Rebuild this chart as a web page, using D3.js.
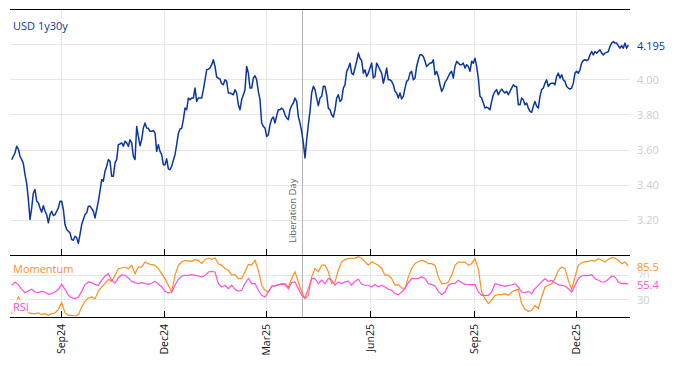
<!DOCTYPE html>
<html lang="en">
<head>
<meta charset="UTF-8">
<title>USD 1y30y</title>
<script src="https://cdn.jsdelivr.net/npm/d3@7"></script>
<style>
  body { margin: 0; background: #fff; }
  text { font-family: "Open Sans", sans-serif; }
</style>
</head>
<body>
<svg width="674" height="366"></svg>
<script>
// series run evenly from the first to the last date
const firstDay = "2024-07-19";
const lastDay = "2026-01-16";

const usd = [
  3.543, 3.562, 3.581, 3.619, 3.603, 3.562, 3.543, 3.520, 3.458, 3.406,
  3.316, 3.202, 3.268, 3.353, 3.372, 3.306, 3.297, 3.268, 3.244, 3.281,
  3.249, 3.230, 3.183, 3.230, 3.249, 3.225, 3.230, 3.249, 3.268, 3.306,
  3.306, 3.259, 3.173, 3.145, 3.135, 3.126, 3.088, 3.084, 3.107, 3.098,
  3.066, 3.117, 3.173, 3.202, 3.230, 3.240, 3.278, 3.278, 3.264, 3.249,
  3.211, 3.259, 3.306, 3.363, 3.429, 3.420, 3.477, 3.505, 3.543, 3.533,
  3.448, 3.448, 3.524, 3.543, 3.628, 3.632, 3.638, 3.619, 3.647, 3.638,
  3.619, 3.656, 3.638, 3.562, 3.543, 3.732, 3.675, 3.622, 3.656, 3.723,
  3.751, 3.723, 3.721, 3.704, 3.704, 3.709, 3.694, 3.590, 3.628, 3.590,
  3.571, 3.514, 3.514, 3.547, 3.490, 3.486,
  3.505, 3.539, 3.571, 3.628, 3.691, 3.717, 3.721, 3.770, 3.836, 3.827,
  3.893, 3.884, 3.893, 3.893, 3.950, 3.874, 3.893, 3.893, 3.893, 3.941,
  3.997, 4.054, 4.058, 4.064, 4.083, 4.111, 4.073, 4.013, 4.007, 4.001,
  3.975, 3.969, 3.997, 3.988, 3.922, 3.922, 3.918, 3.912, 3.941, 3.922,
  3.855, 3.827, 3.884, 3.912, 3.941, 4.073, 4.035, 3.950, 3.950, 4.007,
  4.020, 3.997, 3.931, 3.884, 3.751, 3.732, 3.723, 3.675, 3.685, 3.742,
  3.774, 3.785, 3.751, 3.793, 3.827, 3.827, 3.836, 3.827, 3.798, 3.780,
  3.770, 3.827, 3.850, 3.865, 3.893, 3.874, 3.789, 3.751, 3.704, 3.638,
  3.552, 3.656, 3.742, 3.817, 3.922, 3.960, 3.941, 3.893, 3.850, 3.893,
  3.903, 3.960, 3.960,
  3.912, 3.836, 3.827, 3.798, 3.785, 3.827, 3.893, 3.912, 3.874, 3.884,
  3.950, 3.969, 4.045, 4.064, 4.092, 4.035, 4.026, 4.064, 4.102, 4.149,
  4.120, 4.107, 4.035, 4.054, 4.016, 4.035, 4.064, 4.092, 4.007, 4.016,
  4.092, 4.073, 4.054, 4.035, 3.978, 4.016, 4.064, 3.997, 3.997, 3.988,
  3.969, 3.931, 3.922, 3.893, 3.922, 3.888, 3.903, 3.950, 3.988, 3.997,
  4.035, 4.045, 3.997, 4.007, 4.073, 4.111, 4.139, 4.139, 4.130, 4.102,
  4.073, 4.083, 4.092, 4.092, 4.111, 4.026, 4.045, 4.016, 3.969, 3.931,
  3.950, 3.982, 3.997, 4.016, 4.035, 4.045, 4.007, 4.073, 4.102, 4.092,
  4.083, 4.083, 4.092, 4.064, 4.083, 4.073, 4.045, 4.102, 4.092, 4.120,
  4.073, 4.007, 3.903,
  3.893, 3.865, 3.836, 3.842, 3.836, 3.827, 3.874, 3.912, 3.931, 3.941,
  3.912, 3.931, 3.944, 3.931, 3.922, 3.931, 3.912, 3.931, 3.950, 3.969,
  3.959, 3.959, 3.855, 3.855, 3.893, 3.884, 3.855, 3.865, 3.836, 3.817,
  3.812, 3.846, 3.874, 3.846, 3.836, 3.903, 3.941, 3.950, 3.978, 3.997,
  3.959, 3.973, 3.978, 3.978, 3.969, 4.016, 4.035, 4.007, 4.026, 3.997,
  3.988, 3.959, 3.950, 3.944, 3.950, 3.978, 4.035, 4.045, 4.035, 4.054,
  4.092, 4.107, 4.111, 4.107, 4.111, 4.139, 4.158, 4.139, 4.158, 4.149,
  4.158, 4.168, 4.149, 4.139, 4.149, 4.153, 4.158, 4.187, 4.206, 4.215,
  4.206, 4.206, 4.191, 4.177, 4.191, 4.177, 4.206, 4.177, 4.195
];

const momentum = [
  6.1, 20.0, 33.9, 25.6, 14.4, 7.8, 6.1, 6.1, 7.2, 4.4,
  6.1, 3.3, 6.1, 7.2, 13.3, 24.4, 7.2, 3.3, 3.3, 2.2,
  4.4, 17.2, 26.7, 32.2, 33.9, 31.1, 43.3, 50.6, 56.1, 63.4,
  60.0, 70.0, 81.2, 82.3, 83.9, 81.2, 86.7, 72.8, 83.9, 83.9,
  92.3, 89.5, 87.8, 86.7, 81.2, 72.8, 64.5, 53.4, 42.2, 70.0,
  86.7, 92.3, 95.1, 93.9, 93.9, 96.2, 95.1, 89.5, 96.7, 98.9,
  96.7, 98.9, 89.5,
  87.1, 81.5, 78.7, 70.3, 71.4, 64.7, 64.7, 75.9, 88.2, 87.1,
  95.5, 78.7, 53.5, 45.1, 42.3, 52.4, 53.5, 53.5, 56.3, 56.3,
  50.7, 64.7, 75.9, 59.1, 42.3, 31.1, 36.7, 67.5, 81.5, 75.9,
  87.1, 87.1, 75.9, 56.3, 59.1, 78.7, 92.7, 96.6, 97.8, 98.3,
  98.9, 101.1, 98.3, 92.7, 87.1, 92.7, 89.9, 87.1, 81.5, 70.3,
  70.3, 64.7, 53.5, 54.6, 49.0, 47.9, 67.5, 81.5, 89.9, 92.7,
  95.1, 93.4, 89.5, 89.5, 86.7, 67.3, 56.1, 56.1, 58.9, 70.0,
  86.7, 92.3, 91.7, 92.3, 86.7, 89.5, 97.8, 81.2, 42.2, 31.1,
  22.8, 28.3, 36.7, 37.8, 37.8, 39.5, 36.7, 42.2, 45.0, 46.7,
  22.8, 13.3, 10.0, 11.7, 20.0, 14.4, 33.9, 50.6, 53.4, 56.1,
  64.5, 78.4, 83.9, 81.2, 61.7, 46.7, 67.3, 86.7, 91.2, 92.8,
  93.4, 95.1, 93.9, 97.8, 95.1, 92.3, 96.7, 99.5, 98.9, 95.1,
  89.5, 92.3, 85.5
];

const rsi = [
  53.4, 58.9, 54.5, 46.7, 41.1, 43.9, 46.7, 42.2, 41.1, 43.3,
  42.2, 38.3, 39.5, 42.2, 46.7, 55.0, 46.7, 36.7, 32.8, 31.1,
  33.9, 43.3, 54.5, 58.9, 57.8, 54.5, 53.4, 61.7, 68.9, 72.8,
  61.7, 57.2, 65.6, 71.1, 70.0, 65.6, 60.0, 57.8, 56.1, 57.8,
  56.1, 55.0, 57.2, 60.0, 55.6, 50.6, 43.3, 40.6, 42.2, 53.4,
  63.4, 68.9, 70.0, 70.0, 71.1, 70.0, 68.9, 67.3, 70.0, 75.6,
  76.7, 75.6, 56.1,
  50.7, 53.5, 47.9, 53.5, 46.8, 43.4, 45.1, 56.3, 64.7, 56.3,
  56.3, 45.1, 36.7, 33.9, 42.3, 51.8, 51.8, 54.6, 55.2, 54.6,
  47.9, 58.0, 59.1, 47.9, 36.7, 32.2, 47.9, 64.7, 64.7, 56.3,
  61.9, 56.3, 64.7, 61.9, 53.5, 59.1, 56.3, 59.1, 60.2, 53.5,
  60.2, 63.6, 55.2, 53.5, 53.5, 50.7, 54.6, 50.7, 53.5, 50.7,
  46.8, 45.1, 39.5, 37.8, 42.3, 47.9, 58.0, 64.7, 64.7, 64.7,
  67.8, 64.5, 56.1, 54.5, 52.2, 43.3, 37.8, 42.2, 53.4, 56.1,
  56.7, 61.7, 57.8, 55.0, 54.5, 54.5, 54.5, 42.2, 36.7, 36.7,
  36.7, 42.2, 56.1, 54.5, 53.4, 51.7, 53.4, 53.9, 56.1, 50.6,
  42.2, 41.1, 43.3, 39.5, 47.8, 53.4, 58.9, 64.5, 60.0, 61.7,
  57.8, 54.5, 53.4, 52.2, 47.8, 42.2, 53.4, 64.5, 68.9, 70.0,
  69.5, 71.1, 64.5, 61.7, 58.9, 58.9, 63.4, 68.9, 67.3, 58.9,
  56.1, 56.7, 55.4
];

const monthTicks = ["2024-09-01", "2024-12-01", "2025-03-01", "2025-06-01", "2025-09-01", "2025-12-01"];
const usdTicks = [3.2, 3.4, 3.6, 3.8, 4.0, 4.2];
const oscTicks = [30, 70];
const eventDay = "2025-04-02";
const eventName = "Liberation Day";
const seriesName = "USD 1y30y";

const colors = {
  usd: "#0b36a0",
  momentum: "#ff8f1f",
  rsi: "#ff4fdc",
  grid: "#e6e6e6",
  tick: "#cdcdcd"
};

const svg = d3.select("svg");
const left = 10, right = 630;
const parse = d3.timeParse("%Y-%m-%d");
const t0 = parse(firstDay), t1 = parse(lastDay);

const spread = vals => vals.map((v, i) => ({
  date: new Date(+t0 + i * (t1 - t0) / (vals.length - 1)),
  value: v
}));

const x = d3.scaleTime()
  .domain([new Date(2024, 6, 17, 12), new Date(2026, 0, 17, 12)])
  .range([left, right]);
const y = d3.scaleLinear().domain([3.0, 4.4]).range([255, 9]);
const y2 = d3.scaleLinear().domain([0, 104]).range([317.3, 255]);

const months = monthTicks.map(parse);

// clip areas
const defs = svg.append("defs");
defs.append("clipPath").attr("id", "clipTop")
  .append("rect").attr("x", left).attr("y", 9).attr("width", right - left).attr("height", 246);
defs.append("clipPath").attr("id", "clipBot")
  .append("rect").attr("x", left).attr("y", 255).attr("width", right - left).attr("height", 62);

// grid
svg.append("g").selectAll("line")
  .data(usdTicks).enter().append("line")
  .attr("x1", left).attr("x2", right)
  .attr("y1", d => Math.round(y(d)) + 0.5).attr("y2", d => Math.round(y(d)) + 0.5)
  .attr("stroke", colors.grid);
svg.append("g").selectAll("line")
  .data(oscTicks).enter().append("line")
  .attr("x1", left).attr("x2", right)
  .attr("y1", d => Math.round(y2(d)) + 0.5).attr("y2", d => Math.round(y2(d)) + 0.5)
  .attr("stroke", colors.grid);
svg.append("g").selectAll("line")
  .data(months).enter().append("line")
  .attr("x1", d => Math.round(x(d)) + 0.5).attr("x2", d => Math.round(x(d)) + 0.5)
  .attr("y1", 9).attr("y2", 317)
  .attr("stroke", colors.grid);

// event line
const ex = Math.round(x(parse(eventDay))) + 0.5;
svg.append("line")
  .attr("x1", ex).attr("x2", ex).attr("y1", 9).attr("y2", 317)
  .attr("stroke", "#b4b4b4");
svg.append("text")
  .attr("transform", `translate(${ex - 10},243) rotate(-90)`)
  .attr("dominant-baseline", "central")
  .style("font-size", "9.5px")
  .attr("fill", "#666")
  .text(eventName);

// lines
const line = ys => d3.line().x(d => x(d.date)).y(d => ys(d.value));

svg.append("path")
  .datum(spread(usd))
  .attr("clip-path", "url(#clipTop)")
  .attr("fill", "none")
  .attr("stroke", colors.usd)
  .attr("stroke-width", 1.5)
  .attr("stroke-linejoin", "round")
  .attr("d", line(y));

svg.append("path")
  .datum(spread(momentum))
  .attr("clip-path", "url(#clipBot)")
  .attr("fill", "none")
  .attr("stroke", colors.momentum)
  .attr("stroke-width", 1.2)
  .attr("d", line(y2));

svg.append("path")
  .datum(spread(rsi))
  .attr("clip-path", "url(#clipBot)")
  .attr("fill", "none")
  .attr("stroke", colors.rsi)
  .attr("stroke-width", 1.2)
  .attr("d", line(y2));

// frame lines and ticks
[9.5, 255.5, 317.5].forEach(yy => {
  svg.append("line")
    .attr("x1", left).attr("x2", right).attr("y1", yy).attr("y2", yy)
    .attr("stroke", "#000");
});
[255, 317].forEach(yy => {
  svg.append("g").selectAll("line")
    .data(months).enter().append("line")
    .attr("x1", d => Math.round(x(d)) + 0.5).attr("x2", d => Math.round(x(d)) + 0.5)
    .attr("y1", yy - 6).attr("y2", yy)
    .attr("stroke", "#000");
});

// x labels
svg.append("g").selectAll("text")
  .data(months).enter().append("text")
  .attr("transform", d => `translate(${x(d)},324) rotate(-90)`)
  .attr("text-anchor", "end")
  .attr("dominant-baseline", "central")
  .style("font-size", "10.5px")
  .attr("fill", "#111")
  .text(d3.timeFormat("%b%y"));

// right labels
svg.append("g").selectAll("text")
  .data(usdTicks.filter(d => d < 4.1)).enter().append("text")
  .attr("x", 637).attr("y", d => y(d))
  .attr("dominant-baseline", "central")
  .style("font-size", "11px")
  .attr("fill", colors.tick)
  .text(d3.format(".2f"));
svg.append("g").selectAll("text")
  .data(oscTicks).enter().append("text")
  .attr("x", 637).attr("y", d => y2(d))
  .attr("dominant-baseline", "central")
  .style("font-size", "11px")
  .attr("fill", colors.tick)
  .text(d => d);

function tag(px, py, label, color, anchor, opacity) {
  const g = svg.append("g");
  const r = g.append("rect").attr("fill", "#fff").attr("fill-opacity", opacity);
  const t = g.append("text")
    .attr("x", px).attr("y", py)
    .attr("text-anchor", anchor)
    .attr("dominant-baseline", "central")
    .style("font-size", "11px")
    .attr("fill", color)
    .text(label);
  const b = t.node().getBBox();
  r.attr("x", b.x - 1).attr("y", b.y + 1).attr("width", b.width + 2).attr("height", b.height - 2);
}

const lastUsd = usd[usd.length - 1];
const lastMom = momentum[momentum.length - 1];
const lastRsi = rsi[rsi.length - 1];
tag(637, y(lastUsd), lastUsd.toFixed(3), colors.usd, "start", 1);
tag(637, y2(lastMom), lastMom.toFixed(1), colors.momentum, "start", 0.85);
tag(637, y2(lastRsi), lastRsi.toFixed(1), colors.rsi, "start", 0.85);

tag(13, 25, seriesName, colors.usd, "start", 0.85);
tag(13, 268, "Momentum", colors.momentum, "start", 0.8);
tag(13, 306, "RSI", colors.rsi, "start", 0.8);
</script>
</body>
</html>
